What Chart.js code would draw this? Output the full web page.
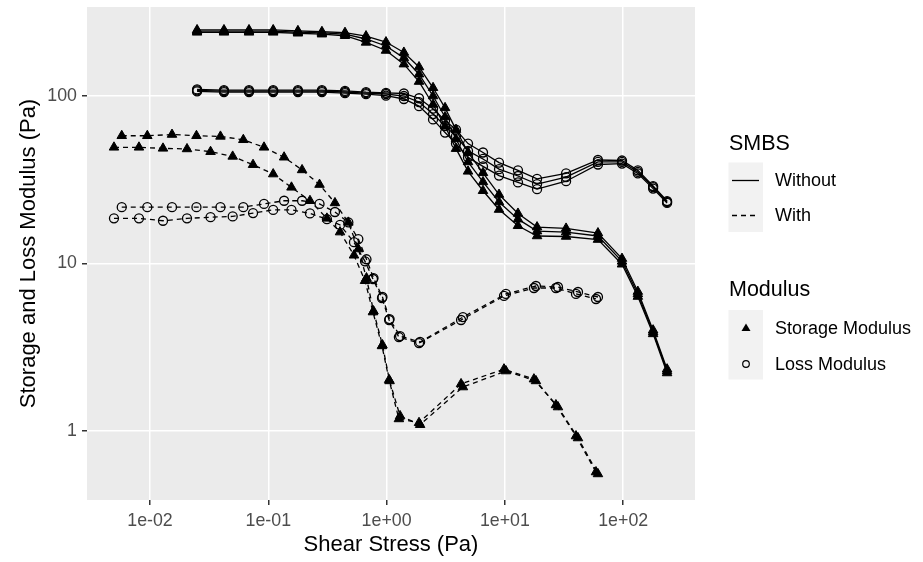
<!DOCTYPE html>
<html>
<head>
<meta charset="utf-8">
<script src="https://cdn.jsdelivr.net/npm/chart.js"></script>
<style>
  html, body { margin: 0; padding: 0; background: #ffffff; }
  #wrap { width: 923px; height: 562px; }
</style>
</head>
<body>
<div id="wrap"><canvas id="rheo" width="923" height="562"></canvas></div>
<script>
// axis ticks
const xTickValues = [0.01, 0.1, 1, 10, 100];
const xTickLabels = ["1e-02", "1e-01", "1e+00", "1e+01", "1e+02"];
const yTickValues = [1, 10, 100];
const yTickLabels = ["1", "10", "100"];

// legend text
const smbsLabels = ["Without", "With"];
const modulusLabels = ["Storage Modulus", "Loss Modulus"];

// SMBS = Without (three runs, same stress steps)
const withoutStress = [0.025, 0.0422, 0.0687, 0.11, 0.178, 0.284, 0.445, 0.67, 0.988, 1.40, 1.88, 2.47, 3.12, 3.86, 4.88, 6.53, 8.92, 12.9, 18.7, 32.9, 61.2, 97.7, 133, 179, 235];
const withoutStorage1 = [244, 244, 244, 244, 241, 238, 234, 219, 199, 169, 135, 100, 75, 55.4, 40.4, 30.7, 23.3, 18.4, 15.6, 15.4, 14.6, 10.3, 6.58, 3.9, 2.28];
const withoutStorage2 = [240, 240, 240, 240, 237, 234, 229, 209, 187, 155, 122, 89, 66, 48.5, 35.5, 27.2, 21, 16.8, 14.6, 14.5, 13.9, 9.9, 6.35, 3.8, 2.22];
const withoutStorage3 = [248, 248, 248, 248, 245, 242, 239, 228, 210, 182, 149, 112, 85, 63, 46, 34.8, 25.8, 19.9, 16.5, 16.2, 15.2, 10.7, 6.8, 4.0, 2.34];
const withoutLoss1 = [108, 107, 107, 107, 107, 107, 105.7, 104, 102.8, 100, 92, 78, 66.2, 57.7, 47, 42.1, 36.6, 33.3, 29.8, 32.8, 40.4, 40.4, 35.2, 28.6, 23.3];
const withoutLoss2 = [106.5, 105.5, 105.5, 105.5, 105.5, 105.5, 104, 102.5, 100.5, 96, 87, 72.5, 60.5, 52, 43, 38, 33.5, 30.5, 27.8, 31, 39, 39.5, 34.5, 28, 23];
const withoutLoss3 = [109.5, 108.5, 108.5, 108.5, 108.5, 108.5, 107.3, 105.5, 104.5, 103.5, 97, 84, 71.5, 63, 52, 46, 40, 36, 32, 34.5, 41.5, 41.2, 36, 29, 23.6];

// SMBS = With (two runs)
const withStressA = [0.00577, 0.00949, 0.01535, 0.0247, 0.0394, 0.0615, 0.092, 0.136, 0.193, 0.271, 0.366, 0.475, 0.577, 0.676, 0.775, 0.923, 1.06, 1.30, 1.92, 4.42, 10.2, 18.3, 28.1, 41.5, 61.2];
const withStorageA = [57.9, 57.9, 58.9, 57.9, 57.4, 54.8, 49.4, 43.1, 36.2, 29.6, 23.0, 17.6, 12.2, 8.19, 5.2, 3.26, 1.99, 1.23, 1.09, 1.83, 2.28, 1.99, 1.39, 0.908, 0.554];
const withLossA = [21.7, 21.7, 21.7, 21.7, 21.7, 21.7, 22.7, 23.7, 23.7, 22.7, 20.3, 17.6, 14.0, 10.6, 8.19, 6.31, 4.66, 3.69, 3.4, 4.79, 6.58, 7.34, 7.24, 6.76, 6.31];
const withStressB = [0.00496, 0.00807, 0.01288, 0.02055, 0.0325, 0.05, 0.0743, 0.11, 0.157, 0.225, 0.313, 0.404, 0.53, 0.657, 0.767, 0.914, 1.05, 1.27, 1.88, 4.26, 9.83, 17.6, 27.0, 39.9, 58.9];
const withStorageB = [49.4, 49.4, 48.7, 48.3, 46.5, 43.6, 38.9, 34.2, 28.5, 23.7, 18.6, 15.4, 11.2, 7.89, 5.13, 3.22, 2.02, 1.18, 1.12, 1.91, 2.34, 2.04, 1.43, 0.933, 0.569];
const withLossB = [18.6, 18.6, 18.0, 18.6, 18.9, 19.1, 20.0, 20.9, 20.9, 19.9, 18.4, 17.0, 13.4, 10.3, 8.08, 6.22, 4.6, 3.64, 3.35, 4.6, 6.4, 7.14, 7.14, 6.58, 6.14];

const FONT = '"Liberation Sans", Arial, sans-serif';

function pairs(xs, ys) {
  return xs.map((x, i) => ({ x: x, y: ys[i] }));
}

function storageSet(xs, ys, dashed) {
  return {
    data: pairs(xs, ys),
    showLine: true,
    borderColor: "#000000",
    borderWidth: 1.3,
    borderDash: dashed ? [5, 4] : [],
    pointStyle: "triangle",
    pointRadius: 5.5,
    pointBackgroundColor: "#000000",
    pointBorderColor: "#000000",
    pointBorderWidth: 1
  };
}

function lossSet(xs, ys, dashed) {
  return {
    data: pairs(xs, ys),
    showLine: true,
    borderColor: "#000000",
    borderWidth: 1.3,
    borderDash: dashed ? [5, 4] : [],
    pointStyle: "circle",
    pointRadius: 4.5,
    pointBackgroundColor: "rgba(0,0,0,0)",
    pointBorderColor: "#000000",
    pointBorderWidth: 1.3
  };
}

// grey panel like ggplot
const panelBg = {
  id: "panelBg",
  beforeDraw(chart) {
    const a = chart.chartArea;
    const ctx = chart.ctx;
    ctx.save();
    ctx.fillStyle = "#EBEBEB";
    ctx.fillRect(a.left, a.top, a.right - a.left, a.bottom - a.top);
    ctx.restore();
  }
};

// two ggplot style legends on the right
const ggLegend = {
  id: "ggLegend",
  afterDraw(chart) {
    const ctx = chart.ctx;
    ctx.save();
    ctx.fillStyle = "#000000";
    ctx.font = "21.5px " + FONT;
    ctx.textBaseline = "alphabetic";
    ctx.fillText("SMBS", 729, 150);
    ctx.fillText("Modulus", 729, 296);

    ctx.fillStyle = "#F2F2F2";
    ctx.fillRect(728.5, 162.5, 34.5, 69.5);
    ctx.fillRect(728.5, 310, 34.5, 69.5);

    // line keys
    ctx.strokeStyle = "#000000";
    ctx.lineWidth = 1.3;
    ctx.beginPath();
    ctx.moveTo(732, 180.5);
    ctx.lineTo(759, 180.5);
    ctx.stroke();
    ctx.setLineDash([5, 4]);
    ctx.beginPath();
    ctx.moveTo(732, 215.5);
    ctx.lineTo(759, 215.5);
    ctx.stroke();
    ctx.setLineDash([]);

    // shape keys
    ctx.fillStyle = "#000000";
    ctx.beginPath();
    ctx.moveTo(746, 323.5);
    ctx.lineTo(750.5, 331);
    ctx.lineTo(741.5, 331);
    ctx.closePath();
    ctx.fill();
    ctx.lineWidth = 1.2;
    ctx.beginPath();
    ctx.arc(746, 364, 3.3, 0, Math.PI * 2);
    ctx.stroke();

    ctx.font = "18px " + FONT;
    ctx.textBaseline = "middle";
    ctx.fillText(smbsLabels[0], 775, 181);
    ctx.fillText(smbsLabels[1], 775, 216);
    ctx.fillText(modulusLabels[0], 775, 329);
    ctx.fillText(modulusLabels[1], 775, 365);
    ctx.restore();
  }
};

new Chart(document.getElementById("rheo"), {
  type: "scatter",
  data: {
    datasets: [
      storageSet(withoutStress, withoutStorage1, false),
      storageSet(withoutStress, withoutStorage2, false),
      storageSet(withoutStress, withoutStorage3, false),
      lossSet(withoutStress, withoutLoss1, false),
      lossSet(withoutStress, withoutLoss2, false),
      lossSet(withoutStress, withoutLoss3, false),
      storageSet(withStressA, withStorageA, true),
      storageSet(withStressB, withStorageB, true),
      lossSet(withStressA, withLossA, true),
      lossSet(withStressB, withLossB, true)
    ]
  },
  options: {
    responsive: false,
    animation: false,
    devicePixelRatio: 1,
    layout: { padding: { left: 0, right: 228, top: 7, bottom: 0 } },
    plugins: {
      legend: { display: false },
      tooltip: { enabled: false }
    },
    scales: {
      x: {
        type: "logarithmic",
        min: 0.002934,
        max: 404.6,
        afterBuildTicks: (s) => { s.ticks = xTickValues.map(v => ({ value: v })); },
        afterFit: (s) => { s.height = 62; s.paddingLeft = 0; s.paddingRight = 0; },
        ticks: {
          callback: (v, i) => xTickLabels[i],
          color: "#4D4D4D",
          font: { size: 17.8, family: FONT },
          padding: 5,
          maxRotation: 0,
          autoSkip: false
        },
        grid: { color: "#FFFFFF", lineWidth: 1.5, tickColor: "#333333", tickLength: 5 },
        border: { display: false },
        title: {
          display: true,
          text: "Shear Stress (Pa)",
          color: "#000000",
          font: { size: 22, family: FONT },
          padding: { top: 4, bottom: 4 }
        }
      },
      y: {
        type: "logarithmic",
        min: 0.3873,
        max: 340,
        afterBuildTicks: (s) => { s.ticks = yTickValues.map(v => ({ value: v })); },
        afterFit: (s) => { s.width = 87; s.paddingTop = 0; s.paddingBottom = 0; },
        ticks: {
          callback: (v, i) => yTickLabels[i],
          color: "#4D4D4D",
          font: { size: 17.8, family: FONT },
          padding: 5,
          autoSkip: false
        },
        grid: { color: "#FFFFFF", lineWidth: 1.5, tickColor: "#333333", tickLength: 5 },
        border: { display: false },
        title: {
          display: true,
          text: "Storage and Loss Modulus (Pa)",
          color: "#000000",
          font: { size: 22, family: FONT },
          padding: { top: 16, bottom: 4 }
        }
      }
    }
  },
  plugins: [panelBg, ggLegend]
});
</script>
</body>
</html>
